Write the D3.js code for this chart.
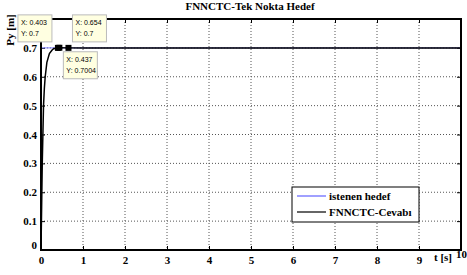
<!DOCTYPE html>
<html>
<head>
<meta charset="utf-8">
<script src="https://cdn.jsdelivr.net/npm/d3@7"></script>
<style>
  body { margin: 0; background: #fff; }
  svg { display: block; }
</style>
</head>
<body>
<div id="container"></div>
<script>
const w = 467;
const h = 275;
const margin = { top: 19, right: 6, bottom: 25, left: 41 };
const width = w - margin.left - margin.right;
const height = h - margin.top - margin.bottom;

// data
const xTicks = [0, 1, 2, 3, 4, 5, 6, 7, 8, 9, 10];
const yTicks = [0, 0.1, 0.2, 0.3, 0.4, 0.5, 0.6, 0.7, 0.8];
const targetT = [0, 10];
const targetY = [0.7, 0.7];
const respT = [0, 0.005, 0.01, 0.02, 0.03, 0.045, 0.06, 0.08, 0.1, 0.14, 0.2, 0.26, 0.3, 0.35, 0.403, 0.437, 0.654, 1, 10];
const respY = [0, 0.05, 0.1, 0.2, 0.3, 0.4, 0.5, 0.56, 0.6, 0.65, 0.68, 0.692, 0.697, 0.699, 0.7, 0.7004, 0.7, 0.7, 0.7];
const tipT = [0.403, 0.654, 0.437];
const tipV = [0.7, 0.7, 0.7004];
const legendNames = ['istenen hedef', 'FNNCTC-Cevabı'];
const legendColors = ['#8080ff', '#000'];

const serif = 'Liberation Serif';
const sans = 'Liberation Sans';

const svg = d3.select('#container')
  .append('svg')
  .attr('width', w)
  .attr('height', h);

const g = svg.append('g')
  .attr('transform', `translate(${margin.left}, ${margin.top})`);

const xScale = d3.scaleLinear().domain([0, 10]).range([0, width]);
const yScale = d3.scaleLinear().domain([0, 0.8]).range([height, 0]);

// grid
g.append('g')
  .selectAll('line')
  .data(xTicks.slice(1, -1))
  .enter().append('line')
  .attr('x1', d => xScale(d)).attr('x2', d => xScale(d))
  .attr('y1', 0).attr('y2', height)
  .attr('stroke', '#555')
  .attr('stroke-width', 1)
  .attr('stroke-dasharray', '1,2');

g.append('g')
  .selectAll('line')
  .data(yTicks.slice(1, -1))
  .enter().append('line')
  .attr('x1', 0).attr('x2', width)
  .attr('y1', d => yScale(d)).attr('y2', d => yScale(d))
  .attr('stroke', '#555')
  .attr('stroke-width', 1)
  .attr('stroke-dasharray', '1,2');

// axes (ticks pointing inward, matlab box)
const styleAxis = sel => {
  sel.attr('font-family', serif).attr('font-size', 11);
  sel.select('.domain').remove();
  sel.selectAll('.tick line').attr('stroke', '#000').attr('stroke-width', 1);
  sel.selectAll('text')
    .attr('font-family', serif)
    .attr('font-weight', 'bold')
    .attr('font-size', 11)
    .attr('fill', '#000');
};

g.append('g')
  .attr('transform', `translate(0, ${height})`)
  .call(d3.axisBottom(xScale).tickValues(xTicks).tickFormat(d3.format('d')).tickSizeInner(-4).tickPadding(6))
  .call(styleAxis)
  .call(a => a.selectAll('.tick')
    .filter(d => d === 10)
    .select('text').attr('dy', '0.2em'));

g.append('g')
  .call(d3.axisLeft(yScale).tickValues(yTicks).tickFormat(d => d === 0 ? '0' : d3.format('.1f')(d)).tickSizeInner(-4).tickPadding(4))
  .call(styleAxis)
  .call(a => a.selectAll('.tick').filter(d => d === 0).select('text').attr('dy', '-0.1em'));

g.append('g')
  .call(d3.axisTop(xScale).tickValues(xTicks).tickSizeInner(-4).tickFormat(''))
  .call(styleAxis);

g.append('g')
  .attr('transform', `translate(${width}, 0)`)
  .call(d3.axisRight(yScale).tickValues(yTicks).tickSizeInner(-4).tickFormat(''))
  .call(styleAxis);

// lines
const line = d3.line()
  .x(d => xScale(d[0]))
  .y(d => yScale(d[1]));

g.append('path')
  .datum(targetT.map((t, i) => [t, targetY[i]]))
  .attr('fill', 'none')
  .attr('stroke', legendColors[0])
  .attr('stroke-width', 1)
  .attr('d', line);

g.append('path')
  .datum(respT.map((t, i) => [t, respY[i]]))
  .attr('fill', 'none')
  .attr('stroke', legendColors[1])
  .attr('stroke-width', 1.5)
  .attr('d', line);

// box
g.append('rect')
  .attr('x', 0).attr('y', 0)
  .attr('width', width).attr('height', height)
  .attr('fill', 'none')
  .attr('stroke', '#000')
  .attr('stroke-width', 2);

// title and labels
svg.append('text')
  .attr('x', 250).attr('y', 10)
  .attr('text-anchor', 'middle')
  .attr('font-family', serif)
  .attr('font-weight', 'bold')
  .attr('font-size', 11)
  .text('FNNCTC-Tek Nokta Hedef');

svg.append('text')
  .attr('transform', 'rotate(-90)')
  .attr('x', -30).attr('y', 14)
  .attr('text-anchor', 'middle')
  .attr('font-family', serif)
  .attr('font-weight', 'bold')
  .attr('font-size', 11)
  .text('Py [m]');

svg.append('text')
  .attr('x', 443).attr('y', 261)
  .attr('text-anchor', 'middle')
  .attr('font-family', serif)
  .attr('font-weight', 'bold')
  .attr('font-size', 11)
  .text('t [s]');

// legend
const legend = g.append('g')
  .attr('transform', `translate(${292 - margin.left}, ${187 - margin.top})`);

legend.append('rect')
  .attr('width', 127).attr('height', 35)
  .attr('fill', '#fff')
  .attr('stroke', '#000')
  .attr('stroke-width', 1);

legendNames.forEach((name, i) => {
  const yy = 9 + i * 16;
  legend.append('line')
    .attr('x1', 5).attr('x2', 34)
    .attr('y1', yy).attr('y2', yy)
    .attr('stroke', legendColors[i])
    .attr('stroke-width', i === 0 ? 1.5 : 1.2);
  legend.append('text')
    .attr('x', 37).attr('y', yy + 4)
    .attr('font-family', serif)
    .attr('font-weight', 'bold')
    .attr('font-size', 11)
    .text(name);
});

// data tips
const tipOffsets = [[-40, -33], [4, -33], [4, 4]];
const fmtNum = d => d3.format('')(d);

tipT.forEach((t, i) => {
  const px = xScale(t);
  const py = yScale(tipV[i]);
  const [dx, dy] = tipOffsets[i];
  const tip = g.append('g')
    .attr('transform', `translate(${px + dx}, ${py + dy})`);
  tip.append('rect')
    .attr('width', 34).attr('height', 27)
    .attr('fill', '#ffffe1')
    .attr('stroke', '#bbb')
    .attr('stroke-width', 1);
  tip.append('text')
    .attr('x', 3).attr('y', 10)
    .attr('font-family', sans)
    .attr('font-size', 7)
    .text('X: ' + fmtNum(t));
  tip.append('text')
    .attr('x', 3).attr('y', 21)
    .attr('font-family', sans)
    .attr('font-size', 7)
    .text('Y: ' + fmtNum(tipV[i]));
});

g.append('g')
  .selectAll('rect')
  .data(tipT)
  .enter().append('rect')
  .attr('x', d => xScale(d) - 3)
  .attr('y', (d, i) => yScale(tipV[i]) - 3)
  .attr('width', 6).attr('height', 6)
  .attr('fill', '#000');
</script>
</body>
</html>
